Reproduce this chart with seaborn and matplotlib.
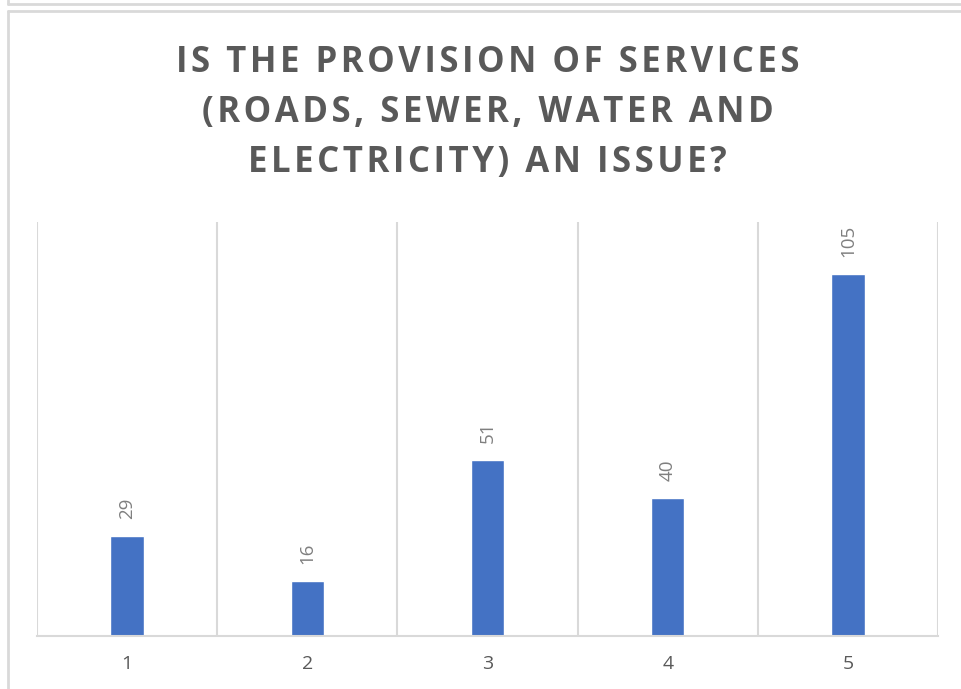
import matplotlib
matplotlib.use("Agg")
import matplotlib.pyplot as plt
from matplotlib.lines import Line2D
import seaborn as sns
import pandas as pd

categories = ["1", "2", "3", "4", "5"]
counts = [29, 16, 51, 40, 105]
title_lines = ["IS THE PROVISION OF SERVICES",
               "(ROADS, SEWER, WATER AND",
               "ELECTRICITY) AN ISSUE?"]

W, H = 961, 689
BAR = "#4472C4"
GRID = "#d9d9d9"
TEXT = "#595959"

sns.set_theme(style="white")
plt.rcParams["font.family"] = ["Open Sans", "DejaVu Sans"]

df = pd.DataFrame({"answer": categories, "count": counts})

fig = plt.figure(figsize=(W / 100, H / 100), dpi=100)
fig.patch.set_facecolor("white")

# plot area in pixel terms
left, right, top, bottom = 37, 938, 222, 636
ax = fig.add_axes([left / W, 1 - bottom / H, (right - left) / W, (bottom - top) / H])

sns.barplot(data=df, x="answer", y="count", color=BAR, width=0.186,
            saturation=1, ax=ax)

ax.set_xlim(-0.5, len(categories) - 0.5)
ax.set_ylim(0, 120)
ax.set_xlabel("")
ax.set_ylabel("")
ax.set_yticks([])

# category separators
for b in [i - 0.5 for i in range(len(categories) + 1)]:
    ax.axvline(b, color=GRID, lw=1.5, zorder=0)

for s in ["top", "left", "right"]:
    ax.spines[s].set_visible(False)
ax.spines["bottom"].set_color(GRID)
ax.spines["bottom"].set_linewidth(1.5)

ax.tick_params(axis="x", length=0, pad=14, labelsize=14, labelcolor=TEXT)

for cont in ax.containers:
    ax.bar_label(cont, labels=[str(v) for v in counts], rotation=90,
                 padding=12, fontsize=13.5, color="#7f7f7f")

# letter-spaced title, one line at a time
HAIR = "\u200a"
for i, line in enumerate(title_lines):
    fig.text(487.5 / W, 1 - (72 + 50 * i) / H, HAIR.join(line), ha="center",
             va="baseline", fontsize=25, fontweight="bold", color=TEXT)

# surrounding frame
px = lambda x, y: (x / W, 1 - y / H)
for (x0, y0), (x1, y1) in [((8, 4), (W, 4)), ((8, 0), (8, 4)),
                           ((8, 11), (W, 11)), ((8, 11), (8, H))]:
    a, b = px(x0, y0), px(x1, y1)
    fig.add_artist(Line2D([a[0], b[0]], [a[1], b[1]], color=GRID, lw=2,
                          transform=fig.transFigure))

fig.savefig("out.png", dpi=100, facecolor="white")
